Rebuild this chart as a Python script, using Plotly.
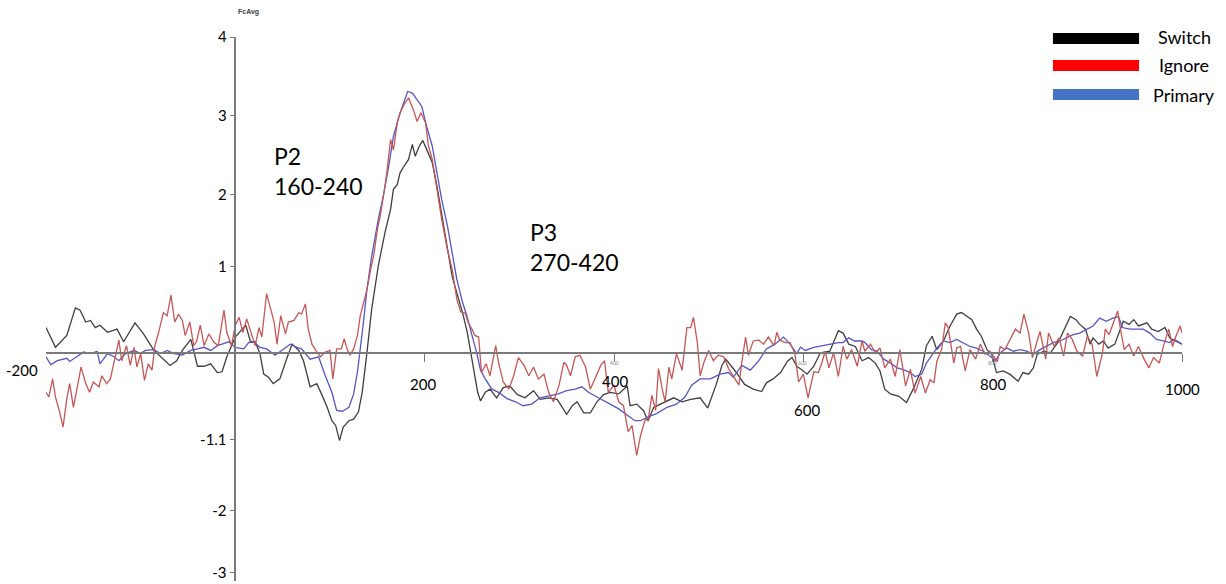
import plotly.graph_objects as go

SWITCH = [(-200,0.32),(-190,0.07),(-178,0.22),(-169,0.57),(-164,0.54),(-158,0.39),(-153,0.41),(-148,0.32),
(-143,0.35),(-135,0.26),(-125,0.30),(-118,0.14),(-106,0.38),(-97,0.24),(-86,0.03),(-76,-0.08),(-69,-0.16),
(-62,-0.10),(-56,0.03),(-47,0.17),(-40,-0.17),(-33,-0.17),(-26,-0.14),(-19,-0.25),(-14,-0.24),(-9,-0.05),
(0,0.20),(11,0.35),(16,0.14),(21,0.14),(26,-0.01),(30,-0.27),(35,-0.31),(40,-0.39),(47,-0.33),(55,-0.05),
(60,0.11),(67,0.03),(72,-0.10),(79,-0.43),(86,-0.39),(91,-0.52),(97,-0.69),(102,-0.86),(106,-0.92),(110,-1.11),
(114,-0.94),(120,-0.86),(125,-0.84),(130,-0.75),(134,-0.50),(139,0.0),(144,0.55),(151,1.10),(158,1.52),
(164,1.82),(167,2.07),(171,2.13),(174,2.28),(178,2.36),(183,2.45),(187,2.64),(190,2.49),(194,2.61),(198,2.69),
(202,2.58),(208,2.41),(213,2.11),(218,1.77),(224,1.35),(229,0.97),(234,0.76),(240,0.51),(245,0.26),(249,0.0),
(253,-0.29),(256,-0.50),(259,-0.61),(264,-0.50),(269,-0.46),(276,-0.57),(283,-0.44),(290,-0.42),(298,-0.53),
(306,-0.57),(315,-0.48),(322,-0.59),(331,-0.57),(340,-0.59),(350,-0.78),(356,-0.67),(361,-0.62),(368,-0.76),
(375,-0.76),(382,-0.62),(389,-0.53),(396,-0.50),(405,-0.52),(414,-0.42),(417,-0.67),(424,-0.65),(431,-0.73),
(436,-0.86),(442,-0.69),(449,-0.65),(456,-0.62),(463,-0.57),(472,-0.62),(481,-0.59),(491,-0.57),(499,-0.70),
(508,-0.40),(514,-0.16),(518,-0.08),(528,-0.23),(538,-0.40),(547,-0.46),(556,-0.49),(561,-0.38),(568,-0.33),
(576,-0.25),(583,-0.11),(588,-0.06),(593,-0.17),(598,-0.21),(604,-0.27),(611,-0.17),(618,0.0),(628,0.02),
(637,0.28),(642,0.25),(648,0.11),(655,0.08),(662,-0.10),(669,-0.06),(676,-0.13),(681,-0.23),(686,-0.46),
(692,-0.52),(701,-0.55),(709,-0.63),(716,-0.46),(725,-0.21),(730,0.09),(736,0.21),(741,0.04),(748,0.15),
(755,0.34),(762,0.49),(767,0.51),(773,0.46),(778,0.42),(783,0.30),(788,0.21),(794,0.04),(799,-0.02),
(804,-0.25),(811,-0.23),(818,-0.27),(827,-0.36),(832,-0.25),(838,-0.27),(843,-0.19),(847,-0.02),(854,0.02),
(861,0.0),(870,0.15),(877,0.34),(882,0.46),(888,0.42),(892,0.36),(898,0.30),(903,0.11),(906,0.19),(912,0.11),
(917,0.15),(922,0.06),(929,0.11),(933,0.23),(938,0.40),(944,0.36),(949,0.42),(954,0.34),(963,0.38),(968,0.30),
(975,0.27),(982,0.32),(987,0.19),(993,0.15),(1000,0.11)]

PRIMARY = [(-200,-0.05),(-195,-0.15),(-188,-0.10),(-178,-0.07),(-175,-0.11),(-167,-0.05),(-160,0.01),(-153,-0.01),
(-146,0.02),(-143,-0.14),(-135,-0.01),(-128,-0.05),(-123,-0.10),(-116,-0.01),(-107,0.03),(-100,-0.01),(-95,0.03),
(-86,0.04),(-79,-0.01),(-72,0.03),(-65,-0.01),(-56,-0.03),(-47,0.03),(-40,0.05),(-33,0.07),(-26,0.03),(-19,0.09),
(-14,0.11),(-7,0.14),(0,0.07),(9,0.05),(14,0.13),(19,0.14),(26,0.07),(33,0.05),(42,-0.03),(49,0.03),(58,0.11),
(65,0.07),(70,0.05),(79,-0.08),(88,-0.05),(95,-0.29),(102,-0.50),(107,-0.73),(113,-0.74),(120,-0.69),(125,-0.52),
(129,-0.24),(132,0.03),(135,0.35),(139,0.80),(144,1.22),(151,1.69),(157,2.03),(162,2.36),(167,2.74),(173,3.00),
(178,3.17),(182,3.31),(187,3.29),(192,3.21),(197,3.12),(202,2.87),(208,2.62),(213,2.28),(218,1.94),(224,1.61),
(229,1.27),(234,0.93),(240,0.64),(245,0.45),(250,0.22),(255,0.0),(259,-0.22),(264,-0.33),(271,-0.46),(278,-0.50),
(287,-0.58),(296,-0.62),(304,-0.67),(313,-0.65),(322,-0.57),(331,-0.55),(341,-0.52),(350,-0.48),(359,-0.46),
(366,-0.43),(373,-0.50),(382,-0.56),(389,-0.60),(396,-0.65),(405,-0.71),(414,-0.79),(422,-0.86),(428,-0.86),
(436,-0.81),(445,-0.77),(456,-0.69),(466,-0.65),(475,-0.56),(482,-0.41),(491,-0.33),(502,-0.33),(512,-0.27),
(521,-0.25),(526,-0.31),(535,-0.16),(544,-0.22),(553,-0.10),(561,0.05),(570,0.11),(579,0.20),(586,0.11),
(593,-0.01),(597,0.07),(602,0.03),(611,0.07),(637,0.13),(642,0.13),(648,0.19),(654,0.15),(662,0.15),(665,0.13),
(672,0.04),(678,0.02),(685,-0.08),(692,-0.13),(699,-0.19),(705,-0.21),(713,-0.25),(718,-0.30),(725,-0.27),
(730,-0.13),(736,-0.02),(741,0.06),(748,0.15),(755,0.13),(762,0.17),(769,0.13),(776,0.08),(783,0.06),(790,0.02),
(797,-0.04),(803,-0.10),(808,0.0),(815,0.06),(822,0.02),(829,0.04),(836,0.02),(843,-0.02),(850,0.04),(857,0.08),
(864,0.13),(871,0.15),(878,0.19),(885,0.23),(892,0.25),(899,0.30),(906,0.34),(913,0.44),(920,0.40),(927,0.44),
(933,0.46),(937,0.32),(945,0.30),(952,0.30),(959,0.30),(966,0.25),(973,0.17),(980,0.15),(987,0.13),(992,0.17),
(1000,0.11)]

IGNORE = [(-200,-0.50),(-197,-0.56),(-193,-0.33),(-190,-0.56),(-186,-0.73),(-182,-0.94),(-178,-0.58),(-175,-0.39),
(-171,-0.69),(-167,-0.41),(-163,-0.18),(-158,-0.39),(-154,-0.50),(-150,-0.37),(-144,-0.43),(-141,-0.29),
(-136,-0.39),(-132,-0.33),(-127,-0.08),(-123,0.16),(-120,-0.10),(-115,0.09),(-111,-0.16),(-107,0.07),(-104,-0.18),
(-100,-0.01),(-96,-0.35),(-92,-0.14),(-88,-0.22),(-85,0.09),(-81,0.26),(-76,0.51),(-72,0.47),(-68,0.73),
(-64,0.39),(-60,0.49),(-56,0.41),(-53,0.22),(-48,0.39),(-44,0.09),(-41,0.14),(-37,0.35),(-33,0.09),(-28,0.24),
(-23,0.14),(-18,0.09),(-12,0.54),(-9,0.26),(-4,0.09),(0,0.35),(4,0.45),(8,0.26),(12,0.43),(17,0.24),(21,0.09),
(25,0.32),(28,0.20),(33,0.75),(37,0.56),(41,0.39),(44,0.11),(48,0.47),(53,0.24),(56,0.39),(62,0.41),(67,0.51),
(70,0.49),(74,0.62),(77,0.30),(81,0.11),(85,0.03),(90,-0.05),(95,0.01),(100,0.03),(103,-0.33),(107,0.05),
(112,0.05),(115,0.18),(118,0.05),(121,-0.03),(125,0.05),(129,0.22),(132,0.47),(136,0.68),(139,0.80),(143,1.06),
(146,1.22),(150,1.56),(153,1.73),(157,2.03),(160,2.28),(164,2.70),(167,2.57),(171,2.91),(174,3.04),(178,3.14),
(183,3.23),(188,3.08),(192,2.93),(196,3.04),(201,2.91),(204,2.62),(208,2.45),(213,2.07),(218,1.69),(224,1.31),
(229,1.06),(234,0.68),(238,0.52),(243,0.50),(246,0.38),(250,0.30),(253,0.22),(257,0.20),(260,-0.25),(265,-0.14),
(269,-0.29),(275,0.09),(278,-0.12),(283,-0.37),(289,-0.46),(294,-0.29),(299,-0.06),(305,-0.16),(310,-0.29),
(315,-0.18),(320,-0.33),(326,-0.27),(331,-0.50),(336,-0.62),(342,-0.41),(347,-0.12),(350,-0.16),(354,-0.29),
(359,-0.05),(364,-0.03),(370,-0.18),(375,-0.46),(380,-0.33),(386,-0.16),(390,-0.10),(394,-0.50),(400,-0.41),
(405,-0.62),(410,-0.67),(415,-1.00),(419,-0.92),(424,-1.30),(428,-1.05),(433,-0.84),(436,-0.86),(440,-0.54),
(444,-0.73),(447,-0.20),(451,-0.46),(454,-0.62),(458,-0.18),(461,-0.33),(466,-0.01),(472,-0.22),(477,0.32),
(481,0.32),(484,0.45),(488,0.13),(491,-0.29),(495,-0.12),(500,0.03),(505,-0.10),(510,-0.03),(516,-0.05),
(521,-0.20),(526,-0.30),(532,-0.41),(535,-0.12),(539,0.20),(542,-0.03),(547,0.15),(553,0.16),(558,0.11),
(563,0.20),(569,0.09),(572,0.26),(575,0.16),(581,0.13),(586,0.13),(591,-0.01),(595,-0.37),(600,-0.27),
(605,-0.57),(611,-0.24),(616,-0.25),(620,-0.11),(623,0.02),(627,-0.19),(632,0.0),(637,-0.30),(642,0.08),
(646,-0.08),(651,0.04),(657,-0.17),(662,0.15),(665,0.02),(671,0.11),(676,0.0),(681,0.06),(686,-0.19),
(692,-0.08),(697,-0.30),(702,0.04),(708,-0.42),(713,-0.21),(718,-0.51),(724,-0.30),(729,-0.51),(734,-0.34),
(738,-0.38),(741,-0.11),(746,0.04),(750,0.38),(753,0.32),(759,-0.13),(762,0.06),(766,0.08),(771,-0.23),
(776,0.04),(782,-0.08),(787,0.11),(792,-0.02),(797,0.02),(805,-0.11),(808,0.08),(813,0.04),(819,0.19),
(824,0.30),(829,0.25),(833,0.49),(838,0.25),(842,-0.06),(847,0.15),(850,0.27),(856,-0.08),(859,0.25),(865,0.08),
(870,0.19),(875,-0.04),(879,0.25),(884,0.17),(889,0.02),(895,-0.04),(900,0.21),(905,0.11),(910,-0.30),(916,0.0),
(919,0.30),(923,0.23),(926,0.34),(932,0.53),(935,0.30),(939,0.04),(944,0.11),(949,-0.04),(954,0.08),(960,-0.08),
(965,-0.19),(970,-0.06),(976,-0.13),(981,0.11),(986,0.30),(990,0.08),(993,0.19),(998,0.34),(1000,0.25)]

Y_TICK_VALS = [4, 3, 2, 1.09, -1.1, -2, -2.78]
Y_TICK_TEXT = ["4", "3", "2", "1", "-1.1", "-2", "-3"]
X_TICK_VALS = [200, 400, 600, 800, 1000]
X_LABELS = ["-200", "200", "400", "600", "800", "1000"]
X_LABEL_POS = [-200, 198, 401, 604, 800, 1000]
X_LABEL_Y = [-0.22, -0.39, -0.36, -0.73, -0.40, -0.46]
SMALL_LABELS = ["400", "600", "800"]
SMALL_LABEL_POS = [401, 599, 800]

SERIES_NAMES = ["Switch", "Ignore", "Primary"]
LINE_COLORS = {"Switch": "#3f3f3f", "Ignore": "#c65757", "Primary": "#5656c4"}
LEGEND_COLORS = {"Switch": "#000000", "Ignore": "#ff0000", "Primary": "#4472c4"}

FONT = "Lato, 'Open Sans', sans-serif"

fig = go.Figure()
data = {"Switch": SWITCH, "Ignore": IGNORE, "Primary": PRIMARY}
for name in ["Switch", "Primary", "Ignore"]:
    t, v = zip(*data[name])
    fig.add_trace(go.Scatter(x=list(t), y=list(v), mode="lines", name=name,
                             line=dict(color=LINE_COLORS[name], width=1.3),
                             showlegend=False, hoverinfo="x+y"))

YMIN, YMAX = -2.89, 4.0
XMIN, XMAX = -200, 1000

annotations = []
for txt, xp, yp in zip(X_LABELS, X_LABEL_POS, X_LABEL_Y):
    if txt == "-200":
        annotations.append(dict(x=xp, y=yp, xref="x", yref="y", text=txt, showarrow=False,
                                xanchor="right", xshift=-6, yanchor="middle",
                                font=dict(family=FONT, size=15, color="#000")))
    else:
        annotations.append(dict(x=xp, y=yp, xref="x", yref="y", text=txt, showarrow=False,
                                xanchor="center", yanchor="middle",
                                font=dict(family=FONT, size=15, color="#000")))

# tiny faint labels along the axis
for txt, xp in zip(SMALL_LABELS, SMALL_LABEL_POS):
    annotations.append(dict(x=xp, y=-0.13, xref="x", yref="y", text=txt, showarrow=False,
                            font=dict(family=FONT, size=5, color="#888")))

annotations += [
    dict(x=0, y=1.046, xref="x", yref="paper", text="<b>FcAvg</b>", showarrow=False,
         xanchor="left", xshift=1, yanchor="middle", font=dict(family="Arial", size=7, color="#444")),
    dict(x=39, y=2.49, xref="x", yref="y", text="P2", showarrow=False, xanchor="left",
         yanchor="middle", font=dict(family=FONT, size=23, color="#000")),
    dict(x=39, y=2.11, xref="x", yref="y", text="160-240", showarrow=False, xanchor="left",
         yanchor="middle", font=dict(family=FONT, size=23, color="#000")),
    dict(x=309, y=1.53, xref="x", yref="y", text="P3", showarrow=False, xanchor="left",
         yanchor="middle", font=dict(family=FONT, size=23, color="#000")),
    dict(x=309, y=1.15, xref="x", yref="y", text="270-420", showarrow=False, xanchor="left",
         yanchor="middle", font=dict(family=FONT, size=23, color="#000")),
]

# custom legend (bars + labels)
shapes = []
legend_rows = [(1.0074, 0.9871, 1.0), (0.9577, 0.9375, 0.9485), (0.9044, 0.8842, 0.8934)]
for name, (y1, y0, yt) in zip(SERIES_NAMES, legend_rows):
    shapes.append(dict(type="rect", xref="paper", yref="paper", x0=0.8864, x1=0.9622, y0=y0, y1=y1,
                       fillcolor=LEGEND_COLORS[name], line=dict(width=0)))
    annotations.append(dict(x=1.0018, y=yt, xref="paper", yref="paper", text=name, showarrow=False,
                            xanchor="center", yanchor="middle",
                            font=dict(family=FONT, size=18, color="#000")))

fig.update_layout(
    width=1226, height=584,
    margin=dict(l=46, r=44, t=37, b=3, pad=0),
    paper_bgcolor="white", plot_bgcolor="white",
    xaxis=dict(range=[XMIN, XMAX], anchor="free", position=(0 - YMIN) / (YMAX - YMIN),
               showline=True, linecolor="#7a7a7a", linewidth=1.5,
               tickvals=X_TICK_VALS, ticks="outside", ticklen=8, tickcolor="#7a7a7a", tickwidth=1.3,
               showticklabels=False, showgrid=False, zeroline=False, fixedrange=True),
    yaxis=dict(range=[YMIN, YMAX], anchor="free", position=(0 - XMIN) / (XMAX - XMIN),
               showline=True, linecolor="#7a7a7a", linewidth=1.5,
               tickvals=Y_TICK_VALS, ticktext=Y_TICK_TEXT, ticks="outside", ticklen=5,
               tickcolor="#7a7a7a", tickfont=dict(family=FONT, size=15, color="#000"),
               showgrid=False, zeroline=False, fixedrange=True),
    annotations=annotations, shapes=shapes, showlegend=False,
)

fig.write_html("out.html")
